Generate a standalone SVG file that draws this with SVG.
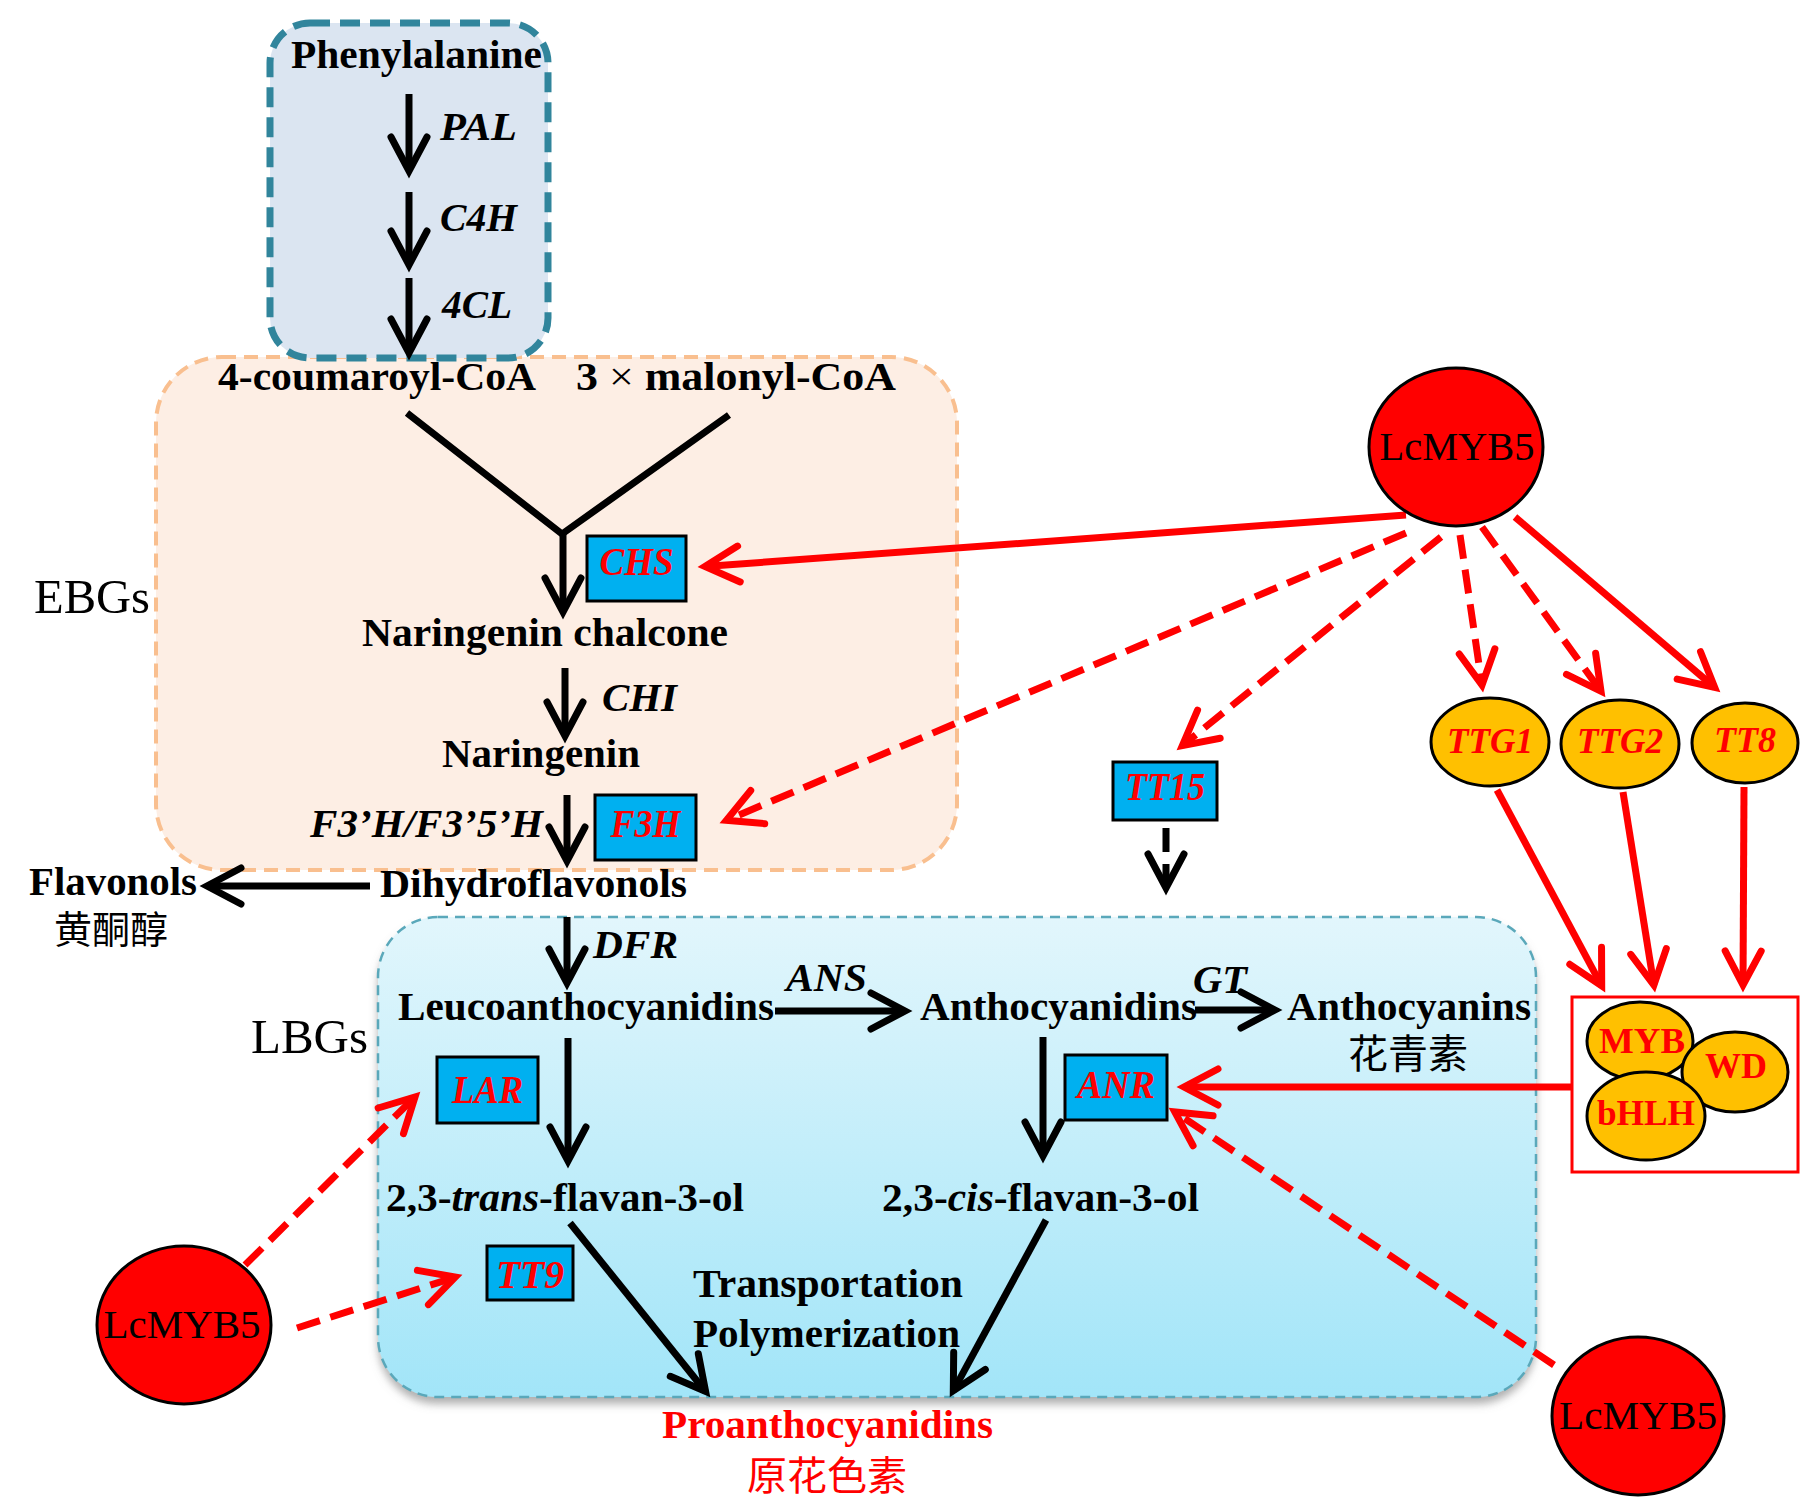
<svg xmlns="http://www.w3.org/2000/svg" width="1818" height="1506" viewBox="0 0 1818 1506">
<defs>
<style>
.b{font-family:"Liberation Serif","Times New Roman",serif;font-weight:bold;font-size:40px;fill:#000}
.bi{font-family:"Liberation Serif","Times New Roman",serif;font-weight:bold;font-style:italic;font-size:40px;fill:#000}
.rg{font-family:"Liberation Serif","Times New Roman",serif;font-size:40px;fill:#000}
.cjk{font-family:"Noto Sans CJK SC",sans-serif;font-size:40px;fill:#000}
.red{fill:#ff0000}
.ln{stroke:#000;stroke-width:7;fill:none;marker-end:url(#ab)}
.lnd{stroke:#000;stroke-width:7;fill:none;stroke-dasharray:24 12;marker-end:url(#ab)}
.rl{stroke:#ff0000;stroke-width:7;fill:none;marker-end:url(#ar)}
.rd{stroke:#ff0000;stroke-width:7;fill:none;stroke-dasharray:24 11;marker-end:url(#ar)}
.gene{fill:#00b0f0;stroke:#000;stroke-width:3}
.tf{fill:#ffc000;stroke:#000;stroke-width:3}
.myb{fill:#ff0000;stroke:#000;stroke-width:3}
</style>
<marker id="ab" markerUnits="userSpaceOnUse" viewBox="-45 -30 60 60" refX="0" refY="0" markerWidth="60" markerHeight="60" orient="auto" overflow="visible">
<path d="M-34,-18 L0,0 L-34,18" fill="none" stroke="#000" stroke-width="7" stroke-linecap="round" stroke-linejoin="miter"/>
</marker>
<marker id="ar" markerUnits="userSpaceOnUse" viewBox="-45 -30 60 60" refX="0" refY="0" markerWidth="60" markerHeight="60" orient="auto" overflow="visible">
<path d="M-34,-18 L0,0 L-34,18" fill="none" stroke="#ff0000" stroke-width="7" stroke-linecap="round" stroke-linejoin="miter"/>
</marker>
<linearGradient id="lbgGrad" x1="0" y1="0" x2="0" y2="1">
<stop offset="0" stop-color="#e2f6fc"/>
<stop offset="1" stop-color="#a2e5f8"/>
</linearGradient>
<filter id="shadow" x="-5%" y="-5%" width="110%" height="115%">
<feDropShadow dx="0" dy="7" stdDeviation="4" flood-color="#7a7a7a" flood-opacity="0.6"/>
</filter>
</defs>
<rect width="1818" height="1506" fill="#ffffff"/>

<g id="ebg-region">
<rect x="156" y="357" width="801" height="513" rx="66" ry="66" fill="#fdeee4" stroke="#f9bf8f" stroke-width="4" stroke-dasharray="14 8"/>
</g>
<g id="phenylpropanoid-region">
<rect x="270" y="23" width="278" height="335" rx="40" ry="40" fill="#dbe5f1" stroke="#31859c" stroke-width="7" stroke-dasharray="20 10"/>
</g>
<g id="lbg-region">
<rect x="378" y="917" width="1158" height="480" rx="60" ry="60" fill="url(#lbgGrad)" filter="url(#shadow)"/>
<rect x="378" y="917" width="1158" height="480" rx="60" ry="60" fill="none" stroke="#5aa8ba" stroke-width="2.5" stroke-dasharray="10 7"/>
</g>

<g id="region-labels">
<text class="rg" x="34" y="613" font-size="48" textLength="116" lengthAdjust="spacingAndGlyphs" style="font-size:48px">EBGs</text>
<text class="rg" x="251" y="1053" textLength="117" lengthAdjust="spacingAndGlyphs" style="font-size:48px">LBGs</text>
</g>

<g id="connectors">
<line class="ln" x1="409" y1="94" x2="409" y2="171"/>
<line class="ln" x1="409" y1="192" x2="409" y2="265"/>
<line class="ln" x1="409" y1="278" x2="409" y2="353"/>
<path d="M407,413 L562,534 L729,415" fill="none" stroke="#000" stroke-width="7" stroke-linejoin="miter"/>
<line class="ln" x1="563" y1="534" x2="563" y2="612"/>
<line class="ln" x1="565" y1="668" x2="565" y2="736"/>
<line class="ln" x1="567" y1="795" x2="567" y2="861"/>
<line class="ln" x1="370" y1="886" x2="207" y2="886"/>
<line class="ln" x1="567" y1="917" x2="567" y2="983"/>
<line class="ln" x1="775" y1="1011" x2="905" y2="1011"/>
<line class="ln" x1="1195" y1="1010" x2="1275" y2="1010"/>
<line class="ln" x1="568" y1="1038" x2="568" y2="1161"/>
<line class="ln" x1="1043" y1="1037" x2="1043" y2="1156"/>
<line class="ln" x1="570" y1="1223" x2="705.6" y2="1391.5"/>
<line class="ln" x1="1046" y1="1220" x2="953.3" y2="1390.8"/>
<line class="lnd" x1="1166" y1="828" x2="1166" y2="888"/>
<line class="rl" x1="1406" y1="515" x2="705" y2="566.5"/>
<line class="rd" x1="1406" y1="533" x2="726.4" y2="820.3"/>
<line class="rd" x1="1441" y1="537" x2="1182.4" y2="745.6"/>
<line class="rd" x1="1460" y1="535" x2="1482" y2="685"/>
<line class="rd" x1="1482" y1="527" x2="1601" y2="691.3"/>
<line class="rl" x1="1515" y1="517" x2="1714.7" y2="687.5"/>
<line class="rl" x1="1497" y1="790" x2="1601.7" y2="985.8"/>
<line class="rl" x1="1623" y1="792" x2="1653.9" y2="985.1"/>
<line class="rl" x1="1744" y1="787" x2="1743" y2="985"/>
<line class="rl" x1="1572" y1="1087" x2="1184" y2="1087"/>
<line class="rd" x1="1554" y1="1365" x2="1174.8" y2="1111.9"/>
<line class="rd" x1="245" y1="1265" x2="415" y2="1096.9"/>
<line class="rd" x1="297" y1="1328" x2="455.3" y2="1277.1"/>
</g>

<g id="phenylalanine"><text class="b" x="291" y="68" textLength="251" lengthAdjust="spacingAndGlyphs">Phenylalanine</text></g>
<g id="enzyme-PAL"><text class="bi" x="440" y="140" textLength="77" lengthAdjust="spacingAndGlyphs">PAL</text></g>
<g id="enzyme-C4H"><text class="bi" x="440" y="231" textLength="77" lengthAdjust="spacingAndGlyphs">C4H</text></g>
<g id="enzyme-4CL"><text class="bi" x="442" y="318" textLength="70" lengthAdjust="spacingAndGlyphs">4CL</text></g>
<g id="coumaroyl-coa"><text class="b" x="218" y="390" textLength="318" lengthAdjust="spacingAndGlyphs">4-coumaroyl-CoA</text></g>
<g id="malonyl-coa"><text class="b" x="576" y="390" textLength="320" lengthAdjust="spacingAndGlyphs">3 <tspan font-weight="normal">×</tspan> malonyl-CoA</text></g>
<g id="CHS"><rect class="gene" x="587" y="536" width="99" height="65"/><text class="bi red" x="636.5" y="575" text-anchor="middle" textLength="74" lengthAdjust="spacingAndGlyphs">CHS</text></g>
<g id="naringenin-chalcone"><text class="b" x="362" y="646" textLength="366" lengthAdjust="spacingAndGlyphs">Naringenin chalcone</text></g>
<g id="enzyme-CHI"><text class="bi" x="602" y="711" textLength="75" lengthAdjust="spacingAndGlyphs">CHI</text></g>
<g id="naringenin"><text class="b" x="442" y="767" textLength="198" lengthAdjust="spacingAndGlyphs">Naringenin</text></g>
<g id="enzyme-F3H-F35H"><text class="bi" x="310" y="837" textLength="233" lengthAdjust="spacingAndGlyphs">F3’H/F3’5’H</text></g>
<g id="F3H"><rect class="gene" x="595" y="795" width="101" height="65"/><text class="bi red" x="645.5" y="837" text-anchor="middle" textLength="70" lengthAdjust="spacingAndGlyphs">F3H</text></g>
<g id="dihydroflavonols"><text class="b" x="380" y="897" textLength="307" lengthAdjust="spacingAndGlyphs">Dihydroflavonols</text></g>
<g id="flavonols"><text class="b" x="29" y="895" textLength="168" lengthAdjust="spacingAndGlyphs">Flavonols</text><text class="cjk" x="111" y="943" text-anchor="middle" style="font-size:38px">黄酮醇</text></g>
<g id="enzyme-DFR"><text class="bi" x="593" y="958" textLength="85" lengthAdjust="spacingAndGlyphs">DFR</text></g>
<g id="leucoanthocyanidins"><text class="b" x="398" y="1020" textLength="376" lengthAdjust="spacingAndGlyphs">Leucoanthocyanidins</text></g>
<g id="enzyme-ANS"><text class="bi" x="786" y="991" textLength="81" lengthAdjust="spacingAndGlyphs">ANS</text></g>
<g id="anthocyanidins"><text class="b" x="920" y="1020" textLength="277" lengthAdjust="spacingAndGlyphs">Anthocyanidins</text></g>
<g id="enzyme-GT"><text class="bi" x="1193" y="993" textLength="54" lengthAdjust="spacingAndGlyphs">GT</text></g>
<g id="anthocyanins"><text class="b" x="1287" y="1020" textLength="244" lengthAdjust="spacingAndGlyphs">Anthocyanins</text><text class="cjk" x="1408" y="1068" text-anchor="middle">花青素</text></g>
<g id="LAR"><rect class="gene" x="437" y="1057" width="101" height="66"/><text class="bi red" x="487.5" y="1103" text-anchor="middle" textLength="71" lengthAdjust="spacingAndGlyphs">LAR</text></g>
<g id="ANR"><rect class="gene" x="1065" y="1055" width="102" height="65"/><text class="bi red" x="1116" y="1098" text-anchor="middle" textLength="78" lengthAdjust="spacingAndGlyphs">ANR</text></g>
<g id="trans-flavan-3-ol"><text class="b" x="386" y="1211" textLength="358" lengthAdjust="spacingAndGlyphs">2,3-<tspan font-style="italic">trans</tspan>-flavan-3-ol</text></g>
<g id="cis-flavan-3-ol"><text class="b" x="882" y="1211" textLength="317" lengthAdjust="spacingAndGlyphs">2,3-<tspan font-style="italic">cis</tspan>-flavan-3-ol</text></g>
<g id="TT9"><rect class="gene" x="487" y="1246" width="86" height="54"/><text class="bi red" x="530" y="1288" text-anchor="middle" textLength="68" lengthAdjust="spacingAndGlyphs">TT9</text></g>
<g id="transport-label"><text class="b" x="693" y="1297" textLength="270" lengthAdjust="spacingAndGlyphs">Transportation</text><text class="b" x="693" y="1347" textLength="267" lengthAdjust="spacingAndGlyphs">Polymerization</text></g>
<g id="proanthocyanidins"><text class="b red" x="662" y="1438" textLength="331" lengthAdjust="spacingAndGlyphs">Proanthocyanidins</text><text class="cjk red" x="827" y="1490" text-anchor="middle">原花色素</text></g>

<g id="TT15"><rect class="gene" x="1113" y="762" width="104" height="58"/><text class="bi red" x="1165" y="800" text-anchor="middle" textLength="80" lengthAdjust="spacingAndGlyphs">TT15</text></g>
<g id="LcMYB5-top"><ellipse class="myb" cx="1456" cy="447" rx="87" ry="79"/><text class="rg" x="1457" y="460" text-anchor="middle" textLength="155" lengthAdjust="spacingAndGlyphs">LcMYB5</text></g>
<g id="TTG1"><ellipse class="tf" cx="1490" cy="742" rx="59" ry="44"/><text class="bi red" x="1490" y="753" text-anchor="middle" textLength="86" lengthAdjust="spacingAndGlyphs" style="font-size:36px">TTG1</text></g>
<g id="TTG2"><ellipse class="tf" cx="1620" cy="744" rx="59" ry="44"/><text class="bi red" x="1620" y="753" text-anchor="middle" textLength="86" lengthAdjust="spacingAndGlyphs" style="font-size:36px">TTG2</text></g>
<g id="TT8"><ellipse class="tf" cx="1745" cy="743" rx="53" ry="40"/><text class="bi red" x="1745" y="752" text-anchor="middle" textLength="62" lengthAdjust="spacingAndGlyphs" style="font-size:36px">TT8</text></g>
<g id="MBW-complex">
<rect x="1572" y="997" width="226" height="175" fill="none" stroke="#ff0000" stroke-width="3"/>
<ellipse class="tf" cx="1640" cy="1041" rx="53" ry="39"/>
<ellipse class="tf" cx="1735" cy="1072" rx="53" ry="40"/>
<ellipse class="tf" cx="1646" cy="1116" rx="59" ry="44"/>
<text class="b red" x="1642" y="1053" text-anchor="middle" textLength="86" lengthAdjust="spacingAndGlyphs" style="font-size:36px">MYB</text>
<text class="b red" x="1736" y="1078" text-anchor="middle" textLength="62" lengthAdjust="spacingAndGlyphs" style="font-size:36px">WD</text>
<text class="b red" x="1646" y="1125" text-anchor="middle" textLength="98" lengthAdjust="spacingAndGlyphs" style="font-size:36px">bHLH</text>
</g>
<g id="LcMYB5-bottom-left"><ellipse class="myb" cx="184" cy="1325" rx="87" ry="79"/><text class="rg" x="182" y="1338" text-anchor="middle" textLength="157" lengthAdjust="spacingAndGlyphs">LcMYB5</text></g>
<g id="LcMYB5-bottom-right"><ellipse class="myb" cx="1638" cy="1416" rx="86" ry="79"/><text class="rg" x="1638" y="1429" text-anchor="middle" textLength="158" lengthAdjust="spacingAndGlyphs">LcMYB5</text></g>
</svg>
